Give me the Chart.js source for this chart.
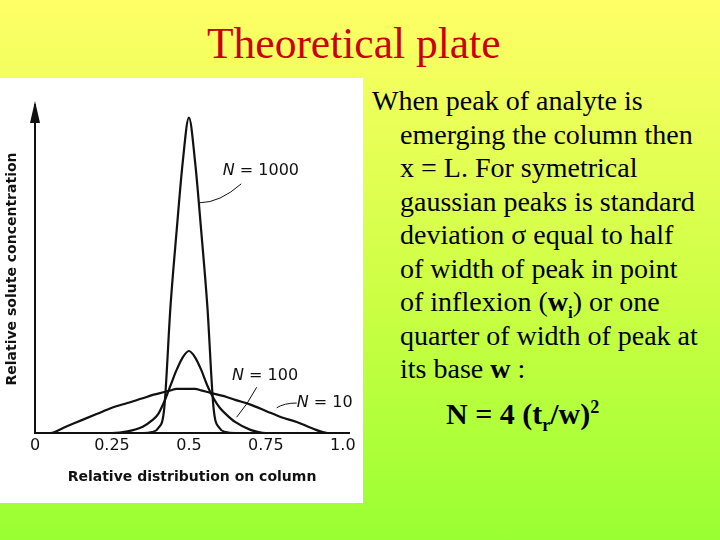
<!DOCTYPE html>
<html><head><meta charset="utf-8">
<script src="https://cdn.jsdelivr.net/npm/chart.js@4"></script>
<style>
body{margin:0;width:720px;height:540px;overflow:hidden;background:linear-gradient(#ffff66,#ccff44 55%,#99ff33);font-family:"Liberation Serif",serif;position:relative}
#title{position:absolute;left:207px;top:18px;font-size:43.5px;color:#cc0000}
#box{position:absolute;left:0;top:78px;width:363px;height:425px;background:#fff}
#txt{position:absolute;left:372px;top:84px;width:330px;font-size:28px;line-height:33.5px;color:#000}
#txt p{margin:0;padding-left:28px;text-indent:-28px}
sub,sup{line-height:0}
#eq{position:absolute;left:446px;top:397px;font-size:30px;font-weight:bold}
</style></head><body>
<div id="title">Theoretical plate</div>
<div id="box"><canvas id="c" width="363" height="425"></canvas></div>
<div id="txt"><p>When peak of analyte is emerging the column then x = L. For symetrical gaussian peaks is standard deviation &sigma; equal to half of width of peak in point of inflexion (<b>w<sub style="font-size:17px">i</sub></b>) or one quarter of width of peak at its base <b>w</b> :</p></div>
<div id="eq">N = 4 (t<sub style="font-size:18px">r</sub>/w)<sup style="font-size:18px">2</sup></div>
<script>
const xs=[0,0.05,0.1,0.15,0.2,0.25,0.3,0.35,0.38,0.4,0.42,0.44,0.46,0.48,0.5,0.52,0.54,0.56,0.58,0.6,0.62,0.65,0.7,0.75,0.8,0.85,0.9,0.95,1.0];
const n1000=[0,0,0,0,0,0,0,0,0.3,1.5,8,40,64,86,100,86,64,40,8,1.5,0.3,0,0,0,0,0,0,0,0];
const n100=[0,0,0,0,0,0,0.5,2,4,6,10,15,20,24,26,24,20,15,11,8,6,3.5,1,0,0,0,0,0,0];
const n10=[0,0,2,4,6,8,9.5,11,12,12.5,13,13.5,14,14,14,14,13.5,13,12.5,12,11.5,10.5,9,7,5,3.5,1.5,0,0];
const xTicks=[0,0.25,0.5,0.75,1.0];
const labels=[
 {t:'N = 1000',x:0.61,y:83,lx:[0.67,0.6,0.535],ly:[79,73,73]},
 {t:'N = 100',x:0.64,y:18,lx:[0.72,0.69,0.655],ly:[14.5,9,5]},
 {t:'N = 10',x:0.85,y:9.5,lx:[0.85,0.81,0.785],ly:[9.5,9.5,8]}];
const pts=a=>xs.map((x,i)=>({x,y:a[i]}));
const ds=a=>({data:pts(a),borderColor:'#111',borderWidth:2.2,pointRadius:0,cubicInterpolationMode:'monotone'});
const deco={id:'deco',afterDraw(ch){
  const {ctx,scales:{x,y}}=ch;ctx.save();
  const ax=x.getPixelForValue(0),ay=y.top;
  ctx.fillStyle='#111';ctx.beginPath();ctx.moveTo(ax,ay-4);ctx.lineTo(ax-5,ay+18);ctx.lineTo(ax+5,ay+18);ctx.fill();
  ctx.textBaseline='middle';ctx.strokeStyle='#111';ctx.lineWidth=1;
  labels.forEach(l=>{
    const px=x.getPixelForValue(l.x),py=y.getPixelForValue(l.y);
    ctx.font='italic 16px "DejaVu Sans"';ctx.fillText('N',px,py);
    const w=ctx.measureText('N').width;ctx.font='16px "DejaVu Sans"';
    ctx.fillText(l.t.slice(1),px+w,py);
    ctx.beginPath();ctx.moveTo(x.getPixelForValue(l.lx[0]),y.getPixelForValue(l.ly[0]));
    ctx.quadraticCurveTo(x.getPixelForValue(l.lx[1]),y.getPixelForValue(l.ly[1]),x.getPixelForValue(l.lx[2]),y.getPixelForValue(l.ly[2]));ctx.stroke();});
  ctx.restore();}};
new Chart(document.getElementById('c'),{type:'line',data:{datasets:[ds(n1000),ds(n100),ds(n10)]},
 options:{responsive:false,animation:false,layout:{padding:{top:27,right:14,left:0,bottom:13}},
  plugins:{legend:{display:false},tooltip:{enabled:false}},
  scales:{
   x:{type:'linear',min:0,max:1.02,afterBuildTicks:s=>{s.ticks=xTicks.map(v=>({value:v}))},afterFit:s=>{s.height=57},
      grid:{display:false,drawTicks:true,tickLength:3},border:{color:'#111',width:2},
      ticks:{color:'#111',font:{size:16,family:'DejaVu Sans'},padding:0,callback:v=>v===0?'0':v===1?'1.0':String(v)},
      title:{display:true,text:'Relative distribution on column',color:'#111',font:{size:14,family:'DejaVu Sans',weight:'bold'},padding:{top:4}}},
   y:{min:0,max:104,afterFit:s=>{s.width=35},grid:{display:false},border:{color:'#111',width:2},ticks:{display:false},
      title:{display:true,text:'Relative solute concentration',color:'#111',font:{size:14,family:'DejaVu Sans',weight:'bold'},padding:{bottom:6}}}
  }},plugins:[deco]});
</script></body></html>
